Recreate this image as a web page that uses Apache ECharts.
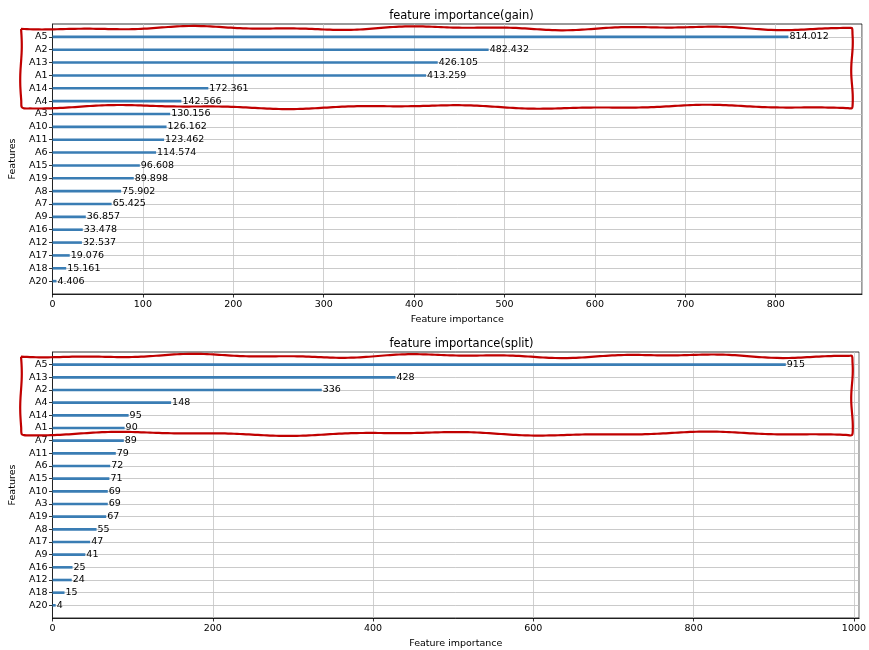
<!DOCTYPE html>
<html>
<head>
<meta charset="utf-8">
<script src="https://cdn.jsdelivr.net/npm/echarts@6/dist/echarts.min.js"></script>
<style>
html,body{margin:0;padding:0;background:#fff;}
#c{width:869px;height:650px;}
</style>
</head>
<body>
<div id="c"></div>
<script>
// Data, listed top-to-bottom as shown
var gainFeatures = ['A5','A2','A13','A1','A14','A4','A3','A10','A11','A6','A15','A19','A8','A7','A9','A16','A12','A17','A18','A20'];
var gainValues = [814.012,482.432,426.105,413.259,172.361,142.566,130.156,126.162,123.462,114.574,96.608,89.898,75.902,65.425,36.857,33.478,32.537,19.076,15.161,4.406];
var splitFeatures = ['A5','A13','A2','A4','A14','A1','A7','A11','A6','A15','A10','A3','A19','A8','A17','A9','A16','A12','A18','A20'];
var splitValues = [915,428,336,148,95,90,89,79,72,71,69,69,67,55,47,41,25,24,15,4];
var gainTicks = [0,100,200,300,400,500,600,700,800];
var splitTicks = [0,200,400,600,800,1000];
var titles = ['feature importance(gain)','feature importance(split)'];
var highlightCount = 6;

var FONT = 'DejaVu Sans';
var chart = echarts.init(document.getElementById('c'), null, {renderer:'canvas'});

function cats(f){ return [''].concat(f.slice().reverse()).concat(['']); }
function vals(v){ return [null].concat(v.slice().reverse()).concat([null]); }

var gridDefs = [
  {left:51, top:24, width:811, height:270},
  {left:51, top:352, width:811, height:269}
];

function hideEdge(n){ return function(i){ return i>0 && i<n-1; }; }

function mkY(idx, feats){
  var c = cats(feats);
  return {
    type:'category', gridIndex:idx, data:c, boundaryGap:false,
    name:'Features', nameLocation:'middle', nameGap:29, nameRotate:90,
    nameTextStyle:{fontFamily:FONT, fontSize:9.5, color:'#000'},
    axisLine:{show:true, lineStyle:{color:'#000', width:0.8}},
    axisTick:{show:true, length:3.5, interval:hideEdge(c.length), lineStyle:{color:'#000', width:0.8}},
    axisLabel:{interval:0, margin:5, fontFamily:FONT, fontSize:9.5, color:'#000'},
    splitLine:{show:true, interval:hideEdge(c.length), lineStyle:{color:'#bcbcbc', width:0.8}}
  };
}
function mkX(idx, vmax, interval, gap){
  return {
    type:'value', gridIndex:idx, min:0, max:vmax*1.1, interval:interval,
    name:'Feature importance', nameLocation:'middle', nameGap:gap,
    nameTextStyle:{fontFamily:FONT, fontSize:9.5, color:'#000'},
    axisLine:{show:true, onZero:false, lineStyle:{color:'#000', width:0.8}},
    axisTick:{show:true, length:3.5, lineStyle:{color:'#000', width:0.8}},
    axisLabel:{margin:6, fontFamily:FONT, fontSize:9.5, color:'#000', showMaxLabel:false, showMinLabel:true,
      formatter:function(v){ return (Math.abs(v/interval - Math.round(v/interval))<1e-6) ? String(v) : ''; }},
    splitLine:{show:true, lineStyle:{color:'#c4c4c4', width:0.8}}
  };
}

var option = {
  animation:false,
  backgroundColor:'#fff',
  title: titles.map(function(t,i){
    return {text:t, left:gridDefs[i].left+gridDefs[i].width/2, textAlign:'center', top:(i===0?5:333),
      textStyle:{fontFamily:FONT, fontSize:11.5, fontWeight:'normal', color:'#000'}};
  }),
  grid: gridDefs.map(function(g){ return Object.assign({show:true, borderColor:'#000', borderWidth:0.8, backgroundColor:'transparent'}, g); }),
  xAxis:[mkX(0, Math.max.apply(null,gainValues), 100, 21), mkX(1, Math.max.apply(null,splitValues), 200, 21)],
  yAxis:[mkY(0, gainFeatures), mkY(1, splitFeatures)],
  series:[
    {type:'bar', xAxisIndex:0, yAxisIndex:0, data:vals(gainValues), barWidth:2.6,
     itemStyle:{color:'#3a7db4'},
     label:{show:true, position:'right', distance:1, fontFamily:FONT, fontSize:9.5, color:'#000',
       formatter:function(p){ return p.value==null?'':String(p.value); }}},
    {type:'bar', xAxisIndex:1, yAxisIndex:1, data:vals(splitValues), barWidth:2.6,
     itemStyle:{color:'#3a7db4'},
     label:{show:true, position:'right', distance:1, fontFamily:FONT, fontSize:9.5, color:'#000',
       formatter:function(p){ return p.value==null?'':String(p.value); }}}
  ]
};
chart.setOption(option);

// hand-drawn style highlight boxes around the top features
function wavyBox(gi, feats){
  var g = gridDefs[gi];
  var c = cats(feats);
  var topCat = feats[0], lastCat = feats[highlightCount-1];
  var yTop = chart.convertToPixel({yAxisIndex:gi}, topCat);
  var yBot = chart.convertToPixel({yAxisIndex:gi}, lastCat);
  var step = g.height/(c.length-1);
  var T = yTop - 0.68*step, B = yBot + 0.45*step;
  var L = g.left - 30, R = g.left + g.width - 10;
  var pts = [];
  var x;
  for (x=L; x<=R; x+=6){ pts.push([x, T + 1.4*Math.sin((x-L)/38) + 0.8*Math.sin((x-L)/17+1)]); }
  for (var y=T; y<=B; y+=6){ pts.push([R + 0.8*Math.sin((y-T)/9), y]); }
  for (x=R; x>=L; x-=6){ pts.push([x, B + 1.5*Math.sin((x-L)/45+2) + 0.7*Math.sin((x-L)/19)]); }
  for (var y2=B; y2>=T; y2-=6){ pts.push([L + 0.8*Math.sin((y2-T)/11), y2]); }
  pts.push(pts[0]);
  return {type:'polyline', shape:{points:pts, smooth:0.3}, style:{stroke:'#c00000', lineWidth:2.2, fill:null}, z:100};
}
chart.setOption({graphic:[wavyBox(0, gainFeatures), wavyBox(1, splitFeatures)]});
</script>
</body>
</html>
